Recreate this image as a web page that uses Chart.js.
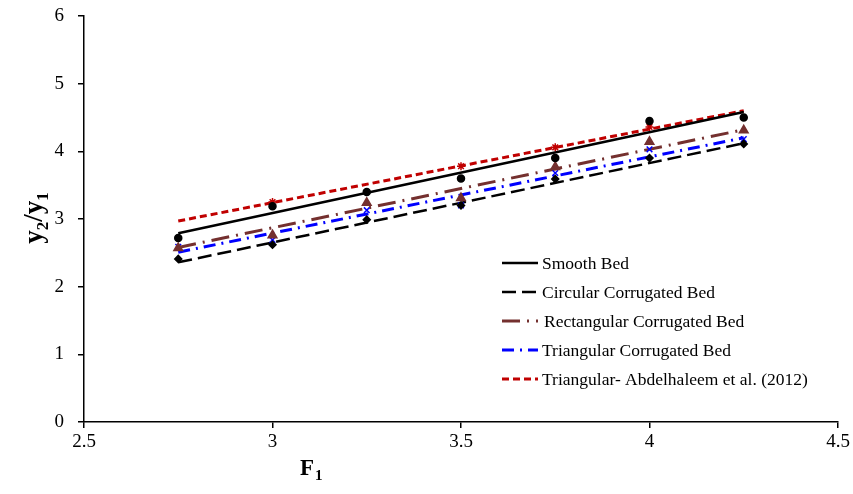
<!DOCTYPE html>
<html>
<head>
    <title>y2/y1 vs F1</title>
    <style>
        body { margin: 0; background: #fff; }
        .wrap { width: 853px; height: 494px; }
    </style>
    <script src="https://cdn.jsdelivr.net/npm/chart.js"></script>
</head>
<body>
    <div class="wrap"><canvas id="jumpChart" width="853" height="494"></canvas></div>
    <script>
        // measured points (F1 on x)
        const f1 = [2.75, 3, 3.25, 3.5, 3.75, 4, 4.25];
        const smoothPts = [2.72, 3.19, 3.40, 3.60, 3.90, 4.45, 4.50];
        const circularPts = [2.41, 2.62, 2.99, 3.20, 3.59, 3.90, 4.11];
        const rectPts = [2.57, 2.76, 3.24, 3.31, 3.77, 4.14, 4.31];
        const triPts = [2.59, 2.69, 3.13, 3.20, 3.68, 4.03, 4.18];
        const abdPts = [null, 3.25, null, 3.78, 4.06, 4.36, null];

        // fitted lines, start and end values
        const fitX = [2.75, 4.25];
        const smoothFit = [2.79, 4.58];
        const circularFit = [2.36, 4.12];
        const rectFit = [2.58, 4.32];
        const triFit = [2.51, 4.20];
        const abdFit = [2.97, 4.60];

        const xTicks = [2.5, 3, 3.5, 4, 4.5];
        const yTicks = [0, 1, 2, 3, 4, 5, 6];

        const labels = ['Smooth Bed', 'Circular Corrugated Bed', 'Rectangular Corrugated Bed',
            'Triangular Corrugated Bed', 'Triangular- Abdelhaleem et al. (2012)'];

        const brown = '#74302f';
        const blue = '#0000ff';
        const red = '#c00000';

        function pts(ys, xs) {
            return xs.map((x, i) => ({ x: x, y: ys[i] })).filter(p => p.y !== null);
        }

        function fitSet(label, ys, color, dash, width) {
            return { label: label, data: pts(ys, fitX), borderColor: color, backgroundColor: color,
                borderWidth: width, borderDash: dash, pointRadius: 0, showLine: true, fill: false, isFit: true };
        }
        function ptSet(ys, color, style, r) {
            return { label: '', data: pts(ys, f1), borderColor: color, backgroundColor: color,
                pointStyle: style, pointRadius: r, pointBorderWidth: 1.5, showLine: false };
        }

        const datasets = [
            ptSet(smoothPts, '#000', 'circle', 3.5),
            ptSet(circularPts, '#000', 'rectRot', 3.5),
            ptSet(rectPts, brown, 'triangle', 5),
            ptSet(triPts, blue, 'crossRot', 4),
            ptSet(abdPts, red, 'star', 4),
            fitSet(labels[0], smoothFit, '#000', [], 2.5),
            fitSet(labels[1], circularFit, '#000', [14, 6], 2.5),
            fitSet(labels[2], rectFit, brown, [18, 7, 2, 7], 3),
            fitSet(labels[3], triFit, blue, [12, 6, 2, 6], 3),
            fitSet(labels[4], abdFit, red, [7, 4], 3)
        ];

        // legend drawn inside the plot area, plus axis titles with subscripts
        const legendPlugin = {
            id: 'innerLegend',
            afterDraw(chart) {
                const ctx = chart.ctx;
                const fits = chart.data.datasets.filter(d => d.isFit);
                ctx.save();
                ctx.font = '17.5px "Liberation Serif", serif';
                ctx.textBaseline = 'middle';
                fits.forEach((d, i) => {
                    const y = 263 + i * 29;
                    ctx.strokeStyle = d.borderColor;
                    ctx.lineWidth = d.borderWidth;
                    ctx.setLineDash(d.borderDash);
                    ctx.beginPath();
                    ctx.moveTo(502, y);
                    ctx.lineTo(538, y);
                    ctx.stroke();
                    ctx.setLineDash([]);
                    ctx.fillStyle = '#000';
                    ctx.fillText(d.label, i === 2 ? 544 : 542, y + 1);
                });

                ctx.textBaseline = 'alphabetic';
                ctx.font = 'bold 23px "Liberation Serif", serif';
                ctx.fillText('F', 300, 475);
                ctx.font = 'bold 15px "Liberation Serif", serif';
                ctx.fillText('1', 315, 480);

                const parts = [['y', 27, 0], ['2', 17, 6], ['/y', 27, 0], ['1', 17, 6]];
                let total = 0;
                parts.forEach(p => {
                    ctx.font = 'bold ' + p[1] + 'px "Liberation Serif", serif';
                    total += ctx.measureText(p[0]).width;
                });
                ctx.translate(42, 218);
                ctx.rotate(-Math.PI / 2);
                let x = -total / 2;
                parts.forEach(p => {
                    ctx.font = 'bold ' + p[1] + 'px "Liberation Serif", serif';
                    ctx.fillText(p[0], x, p[2]);
                    x += ctx.measureText(p[0]).width;
                });
                ctx.restore();
            }
        };

        const ctx = document.getElementById('jumpChart').getContext('2d');
        const jumpChart = new Chart(ctx, {
            type: 'scatter',
            data: { datasets: datasets },
            plugins: [legendPlugin],
            options: {
                responsive: false,
                animation: false,
                layout: { padding: { top: 16, right: 15, left: 0, bottom: 0 } },
                plugins: {
                    legend: { display: false },
                    tooltip: { enabled: false }
                },
                scales: {
                    x: {
                        type: 'linear',
                        min: 2.5, max: 4.5,
                        afterBuildTicks: axis => { axis.ticks = xTicks.map(v => ({ value: v })); },
                        afterFit: axis => { axis.height = 72; axis.paddingRight = 0; axis.paddingLeft = 0; },
                        grid: { drawOnChartArea: false, drawTicks: true, tickLength: 6, color: '#000', lineWidth: 1.5 },
                        border: { color: '#000', width: 1.5 },
                        ticks: { color: '#000', padding: 3, font: { family: 'Liberation Serif', size: 19 },
                            maxRotation: 0, callback: v => String(v) }
                    },
                    y: {
                        min: 0, max: 6,
                        afterBuildTicks: axis => { axis.ticks = yTicks.map(v => ({ value: v })); },
                        afterFit: axis => { axis.width = 84; axis.paddingTop = 0; axis.paddingBottom = 0; },
                        grid: { drawOnChartArea: false, drawTicks: true, tickLength: 6, color: '#000', lineWidth: 1.5 },
                        border: { color: '#000', width: 1.5 },
                        ticks: { color: '#000', padding: 14, font: { family: 'Liberation Serif', size: 19 } }
                    }
                }
            }
        });
    </script>
</body>
</html>
